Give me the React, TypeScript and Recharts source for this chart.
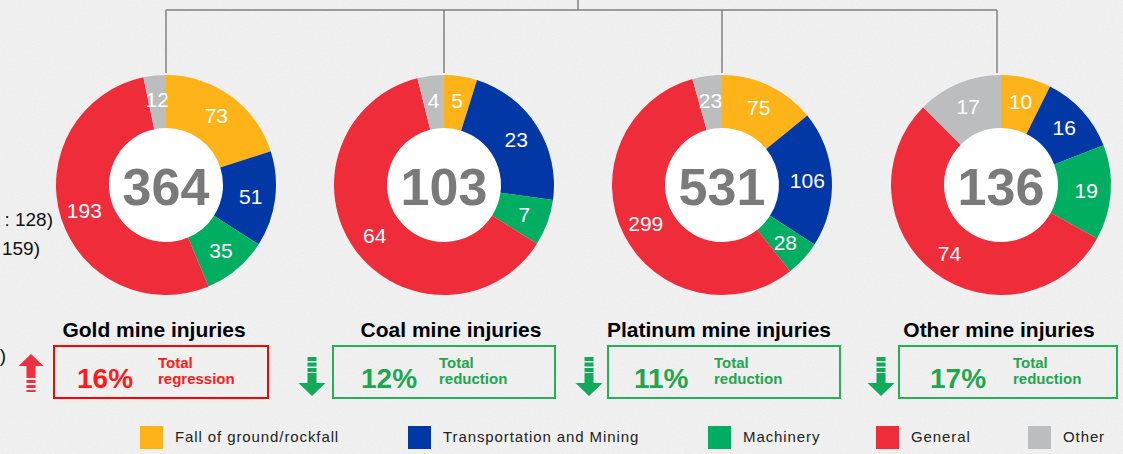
import { PieChart, Pie, Cell } from "recharts";

const categories = [
  "Fall of ground/rockfall",
  "Transportation and Mining",
  "Machinery",
  "General",
  "Other",
];
const colors = ["#feb419", "#0238a6", "#00ae62", "#ef2c3a", "#bbbdbf"];

const mineTitles = [
  "Gold mine injuries",
  "Coal mine injuries",
  "Platinum mine injuries",
  "Other mine injuries",
];
const goldValues = [73, 51, 35, 193, 12];
const coalValues = [5, 23, 7, 64, 4];
const platinumValues = [75, 106, 28, 299, 23];
const otherValues = [10, 16, 19, 74, 17];
const totals = [364, 103, 531, 136];
const changePercents = [16, 12, 11, 17];
const changeLabels = ["regression", "reduction", "reduction", "reduction"];
const changeUp = [true, false, false, false];
// fragments of side notes visible at the left edge
const sideNotes = [": 128)", "159)", ")"];

const seriesValues = [goldValues, coalValues, platinumValues, otherValues];

// layout (pixels)
const W = 1123;
const H = 454;
const CY = 185;
const INNER = 57;
const OUTER = 110;
const centersX = [166, 444, 722, 1001];
const titleX = [154, 451, 719, 999];
const boxes = [
  [54, 268],
  [333, 555],
  [608, 840],
  [899, 1117],
];
const pctX = [77, 361, 634, 930];
const labelX = [158, 439, 714, 1013];
const arrowX = [31, 312, 589, 881];
const legendX = [140, 408, 708, 876, 1028];
const sideNoteX = [53, 40, 6];
const sideNoteY = [226, 255, 362];

const FONT = "'Liberation Sans', Arial, sans-serif";
const RED = "#ff1a1a";
const GREEN = "#1fa650";
const RAD = Math.PI / 180;

const renderLabel = (p: any) => {
  const r = (p.innerRadius + p.outerRadius) / 2 + 2;
  const x = p.cx + r * Math.cos(-p.midAngle * RAD);
  const y = p.cy + r * Math.sin(-p.midAngle * RAD);
  return (
    <text
      x={x}
      y={y}
      fill="#ffffff"
      fontSize={21}
      fontFamily={FONT}
      textAnchor="middle"
      dominantBaseline="central"
    >
      {p.value}
    </text>
  );
};

function Arrow({ x, up, color }: { x: number; up: boolean; color: string }) {
  if (up) {
    return (
      <g fill={color}>
        <polygon points={`${x - 12.5},366 ${x},354 ${x + 12.5},366`} />
        <rect x={x - 4.5} y={365} width={9} height={13} />
        <rect x={x - 4.5} y={380} width={9} height={3} />
        <rect x={x - 4.5} y={385} width={9} height={3} />
        <rect x={x - 4.5} y={390} width={9} height={2} />
      </g>
    );
  }
  return (
    <g fill={color}>
      <rect x={x - 4.5} y={357} width={9} height={4} />
      <rect x={x - 4.5} y={362.5} width={9} height={4} />
      <rect x={x - 4.5} y={368} width={9} height={4} />
      <rect x={x - 4.5} y={373} width={9} height={11} />
      <polygon points={`${x - 13.5},383 ${x + 13.5},383 ${x},396`} />
    </g>
  );
}

export default function App() {
  return (
    <div
      style={{
        position: "absolute",
        left: 0,
        top: 0,
        width: W,
        height: H,
        background: "#f2f2f2",
        overflow: "hidden",
        fontFamily: FONT,
      }}
    >
      <svg
        width={W}
        height={H}
        style={{ position: "absolute", left: 0, top: 0 }}
      >
        <defs>
          <filter id="noise">
            <feTurbulence type="fractalNoise" baseFrequency="0.9" numOctaves="2" seed="3" />
            <feColorMatrix type="saturate" values="0" />
            <feComponentTransfer>
              <feFuncA type="linear" slope="0.1" />
            </feComponentTransfer>
          </filter>
        </defs>
        <rect width={W} height={H} filter="url(#noise)" />

        {/* connector lines */}
        <g stroke="#808080" strokeWidth={1.5} fill="none">
          <line x1={centersX[0]} y1={10} x2={997} y2={10} />
          <line x1={578} y1={0} x2={578} y2={10} />
          <line x1={centersX[0]} y1={10} x2={centersX[0]} y2={73} />
          <line x1={centersX[1]} y1={10} x2={centersX[1]} y2={73} />
          <line x1={centersX[2]} y1={10} x2={centersX[2]} y2={73} />
          <line x1={997} y1={10} x2={997} y2={73} />
        </g>

        <g fontSize={19} fill="#111" fontFamily={FONT}>
          {sideNotes.map((t, i) => (
            <text key={`side-${i}`} x={sideNoteX[i]} y={sideNoteY[i]} textAnchor="end">
              {t}
            </text>
          ))}
        </g>

        {centersX.map((cx, i) => (
          <circle key={`hole-${i}`} cx={cx} cy={CY} r={INNER + 1} fill="#ffffff" />
        ))}
        {centersX.map((cx, i) => (
          <text
            key={`tot-${i}`}
            x={cx}
            y={CY + 2}
            textAnchor="middle"
            dominantBaseline="central"
            fontSize={52}
            fontWeight="bold"
            fill="#7a7a7a"
            fontFamily={FONT}
          >
            {totals[i]}
          </text>
        ))}

        {mineTitles.map((t, i) => (
          <text
            key={`title-${i}`}
            x={titleX[i]}
            y={337}
            textAnchor="middle"
            fontSize={21}
            fontWeight="bold"
            fill="#000"
            fontFamily={FONT}
          >
            {t}
          </text>
        ))}

        {boxes.map(([x0, x1], i) => {
          const c = changeUp[i] ? RED : GREEN;
          return (
            <g key={`box-${i}`} fontFamily={FONT} fontWeight="bold">
              <rect
                x={x0}
                y={346}
                width={x1 - x0}
                height={52}
                fill="none"
                stroke={changeUp[i] ? "#ff0000" : "#22b257"}
                strokeWidth={2}
              />
              <text x={pctX[i]} y={388} fontSize={28} fill={c}>
                {changePercents[i]}%
              </text>
              <text x={labelX[i]} y={368} fontSize={15} fill={c}>
                Total
              </text>
              <text x={labelX[i]} y={384} fontSize={15} fill={c}>
                {changeLabels[i]}
              </text>
              <Arrow
                x={arrowX[i]}
                up={changeUp[i]}
                color={changeUp[i] ? "#ee3142" : "#12a95a"}
              />
            </g>
          );
        })}

        {/* legend */}
        {categories.map((c, i) => (
          <g key={`leg-${i}`}>
            <rect x={legendX[i]} y={426} width={23} height={23} fill={colors[i]} />
            <text
              x={legendX[i] + 35}
              y={442}
              fontSize={15}
              letterSpacing={0.9}
              fill="#222"
              fontFamily={FONT}
            >
              {c}
            </text>
          </g>
        ))}
      </svg>

      <div style={{ position: "absolute", left: 0, top: 0 }}>
        <PieChart width={W} height={H} margin={{ top: 0, right: 0, bottom: 0, left: 0 }}>
          {seriesValues.map((vals, i) => {
            const data = vals.map((v, k) => ({ name: categories[k], value: v }));
            return (
              <Pie
                key={`pie-${i}`}
                data={data}
                dataKey="value"
                nameKey="name"
                cx={centersX[i]}
                cy={CY}
                innerRadius={INNER}
                outerRadius={OUTER}
                startAngle={90}
                endAngle={-270}
                stroke="none"
                label={renderLabel}
                labelLine={false}
                isAnimationActive={false}
              >
                {data.map((_d, k) => (
                  <Cell key={`c-${i}-${k}`} fill={colors[k]} />
                ))}
              </Pie>
            );
          })}
        </PieChart>
      </div>
    </div>
  );
}
